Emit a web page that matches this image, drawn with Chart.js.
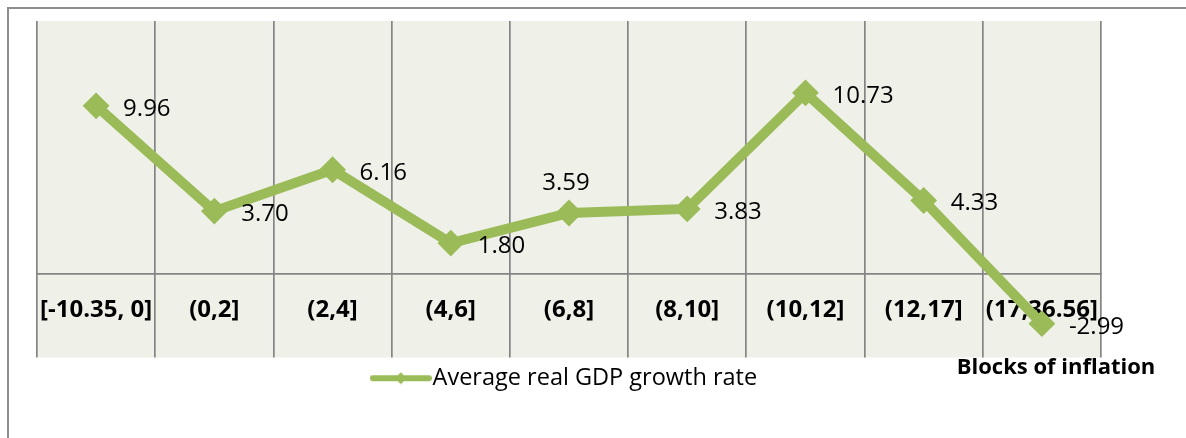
<!DOCTYPE html>
<html>
<head>
<meta charset="utf-8">
<script src="https://cdn.jsdelivr.net/npm/chart.js@4.4.0/dist/chart.umd.min.js"></script>
<style>
  html, body { margin: 0; padding: 0; background: #fff; }
  #wrap { position: relative; width: 1186px; height: 438px; overflow: hidden; }
  #frame { position: absolute; left: 7px; top: 7px; width: 1200px; height: 450px; border-left: 2px solid #8e8e8e; border-top: 2px solid #8e8e8e; }
  canvas { position: absolute; left: 0; top: 0; }
</style>
</head>
<body>
<div id="wrap">
  <div id="frame"></div>
  <canvas id="gdp-chart" width="1186" height="438"></canvas>
</div>
<script>
var categories = ['[-10.35, 0]', '(0,2]', '(2,4]', '(4,6]', '(6,8]', '(8,10]', '(10,12]', '(12,17]', '(17,36.56]'];
var growthRates = [9.96, 3.70, 6.16, 1.80, 3.59, 3.83, 10.73, 4.33, -2.99];
var seriesName = 'Average real GDP growth rate';
var axisTitle = 'Blocks of inflation';
// index of the one value label that Excel put above the point instead of to the right
var labelsAbove = [4];

var green = '#9BBB59';
var gridGrey = '#858585';
var fontName = "'Open Sans', sans-serif";

Chart.defaults.font.family = fontName;
Chart.defaults.color = '#000';

function makeLegendMarker() {
    const c = document.createElement('canvas');
    c.width = 62;
    c.height = 16;
    const ctx = c.getContext('2d');
    ctx.strokeStyle = green;
    ctx.fillStyle = green;
    ctx.lineWidth = 6;
    ctx.lineCap = 'round';
    ctx.beginPath();
    ctx.moveTo(3, 8);
    ctx.lineTo(59, 8);
    ctx.stroke();
    ctx.beginPath();
    ctx.moveTo(31, 2);
    ctx.lineTo(37, 8);
    ctx.lineTo(31, 14);
    ctx.lineTo(25, 8);
    ctx.closePath();
    ctx.fill();
    return c;
}

const plotBackground = {
    id: 'plotBackground',
    beforeDraw(chart) {
        const a = chart.chartArea;
        const ctx = chart.ctx;
        ctx.save();
        ctx.fillStyle = '#EFF1E9';
        ctx.fillRect(a.left, a.top, a.right - a.left, a.bottom - a.top);
        ctx.restore();
    }
};

const valueLabels = {
    id: 'valueLabels',
    afterDatasetsDraw(chart) {
        const ctx = chart.ctx;
        const meta = chart.getDatasetMeta(0);
        const data = chart.data.datasets[0].data;
        ctx.save();
        ctx.font = '24px ' + fontName;
        ctx.fillStyle = '#000';
        ctx.textBaseline = 'middle';
        meta.data.forEach((pt, i) => {
            const text = data[i].toFixed(2);
            if (labelsAbove.includes(i)) {
                ctx.textAlign = 'center';
                ctx.fillText(text, pt.x - 3, pt.y - 30);
            } else {
                ctx.textAlign = 'left';
                ctx.fillText(text, pt.x + 27, pt.y + 3);
            }
        });
        ctx.restore();
    }
};

const axisTitleText = {
    id: 'axisTitleText',
    afterDraw(chart) {
        const a = chart.chartArea;
        const ctx = chart.ctx;
        ctx.save();
        ctx.font = 'bold 22px ' + fontName;
        ctx.fillStyle = '#000';
        ctx.textAlign = 'center';
        ctx.textBaseline = 'middle';
        ctx.fillText(axisTitle, a.right - 45, a.bottom + 10);
        ctx.restore();
    }
};

var gdpChart = new Chart(document.getElementById('gdp-chart'), {
    type: 'line',
    data: {
        labels: categories,
        datasets: [{
            label: seriesName,
            data: growthRates,
            borderColor: green,
            backgroundColor: green,
            borderWidth: 10,
            tension: 0,
            pointStyle: 'rectRot',
            pointRadius: 12,
            pointBorderWidth: 2,
            pointBorderColor: green,
            pointBackgroundColor: green
        }]
    },
    options: {
        responsive: false,
        animation: false,
        layout: {
            padding: { left: 37, top: 21, right: 85, bottom: 38 }
        },
        scales: {
            x: {
                position: { y: 0 },
                offset: true,
                grid: { offset: true, color: gridGrey, lineWidth: 1.7, drawTicks: false },
                border: { color: gridGrey, width: 1.7 },
                ticks: {
                    font: { size: 24, weight: 'bold' },
                    color: '#000',
                    padding: 22,
                    maxRotation: 0,
                    autoSkip: false
                }
            },
            y: {
                display: false,
                min: -5,
                max: 15
            }
        },
        plugins: {
            legend: {
                position: 'bottom',
                labels: {
                    usePointStyle: true,
                    pointStyleWidth: 40,
                    padding: 9,
                    font: { size: 23.5 },
                    color: '#000',
                    generateLabels() {
                        return [{
                            text: seriesName,
                            pointStyle: makeLegendMarker(),
                            fillStyle: green,
                            strokeStyle: green,
                            lineWidth: 0,
                            datasetIndex: 0
                        }];
                    }
                }
            },
            tooltip: { enabled: false }
        }
    },
    plugins: [plotBackground, valueLabels, axisTitleText]
});
</script>
</body>
</html>
